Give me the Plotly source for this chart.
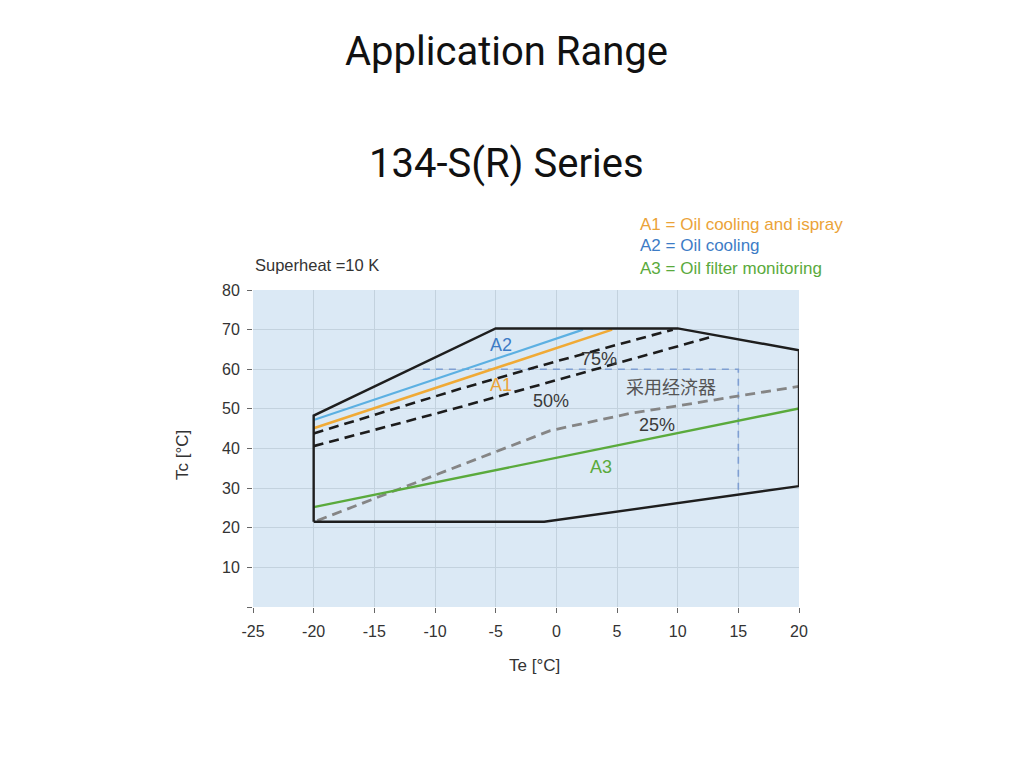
import plotly.graph_objects as go

# ---- data (Te in °C, Tc in °C) ----
env_te = [-20, -20, -5, 10, 20, 20, -1, -20]
env_tc = [21.5, 48.3, 70.3, 70.3, 64.8, 30.5, 21.5, 21.5]

a2_te = [-20, 2.2]
a2_tc = [47.2, 70.0]

a1_te = [-20, 4.6]
a1_tc = [45.1, 70.0]

p75_te = [-20, -8, 0, 9.6]
p75_tc = [43.8, 55.0, 62.0, 70.0]

p50_te = [-20, -8, 12.7]
p50_tc = [40.6, 50.4, 68.1]

p25_te = [-19.7, -0.5, 6, 20]
p25_tc = [21.8, 44.5, 48.8, 55.7]

a3_te = [-20, 20]
a3_tc = [25.2, 50.1]

eco_te = [-11, 15, 15]
eco_tc = [60, 60, 28.5]

x_ticks = [-25, -20, -15, -10, -5, 0, 5, 10, 15, 20]
x_ticktext = ["-25", "-20", "-15", "-10", "-5", "0", "5", "10", "15", "20"]
y_ticks = [0, 10, 20, 30, 40, 50, 60, 70, 80]
y_ticktext = ["", "10", "20", "30", "40", "50", "60", "70", "80"]

fig = go.Figure()

def add_line(x, y, color, width=2.5, dash="solid"):
    fig.add_trace(go.Scatter(x=x, y=y, mode="lines",
                             line=dict(color=color, width=width, dash=dash),
                             hoverinfo="skip", showlegend=False))

add_line(eco_te, eco_tc, "#7f9fd2", 1.6, "7px,6px")
add_line(p25_te, p25_tc, "#858585", 2.8, "10px,6px")
add_line(p50_te, p50_tc, "#1c1c1c", 2.6, "10px,6px")
add_line(p75_te, p75_tc, "#1c1c1c", 2.6, "10px,6px")
add_line(a3_te, a3_tc, "#5aaa3c", 2.4)
add_line(a1_te, a1_tc, "#f0aa36", 2.6)
add_line(a2_te, a2_tc, "#5cb0e2", 2.2)
add_line(env_te, env_tc, "#1e1e1e", 2.4)

afont = "Liberation Sans, Arial"

labels = [
    (-4.6, 66.1, "A2", "#3d7cc6"),
    (-4.6, 56.0, "A1", "#eba338"),
    (3.5, 62.6, "75%", "#3a3a3a"),
    (-0.4, 51.9, "50%", "#3a3a3a"),
    (8.3, 45.9, "25%", "#3a3a3a"),
    (3.7, 35.3, "A3", "#5aaa3c"),
]
for x, y, t, c in labels:
    fig.add_annotation(x=x, y=y, text=t, showarrow=False,
                       font=dict(family=afont, size=18, color=c),
                       xanchor="center", yanchor="middle")

fig.add_annotation(x=9.45, y=55.7, text="采用经济器", showarrow=False,
                   font=dict(family="Noto Sans CJK SC", size=18, color="#555555"),
                   xanchor="center", yanchor="middle")

# outside texts (paper coords)
fig.add_annotation(xref="paper", yref="paper", x=0.0, y=1.079, text="Superheat =10 K",
                   showarrow=False, xanchor="left", yanchor="middle",
                   font=dict(family=afont, size=16.5, color="#333333"))
legend_items = [
    (1.208, "A1 = Oil cooling and ispray", "#eba338"),
    (1.139, "A2 = Oil cooling", "#3d7cc6"),
    (1.069, "A3 = Oil filter monitoring", "#5aaa3c"),
]
for y, t, c in legend_items:
    fig.add_annotation(xref="paper", yref="paper", x=0.705, y=y, text=t,
                       showarrow=False, xanchor="left", yanchor="middle",
                       font=dict(family=afont, size=17, color=c))

fig.add_annotation(xref="paper", yref="paper", x=0.465, y=1.751, text="Application Range",
                   showarrow=False, xanchor="center", yanchor="middle",
                   font=dict(family="Roboto", size=40, color="#111111"))
fig.add_annotation(xref="paper", yref="paper", x=0.465, y=1.40, text="134-S(R) Series",
                   showarrow=False, xanchor="center", yanchor="middle",
                   font=dict(family="Roboto", size=40, color="#111111"))

fig.add_annotation(xref="paper", yref="paper", x=-0.128, y=0.48, text="Tc [°C]",
                   textangle=-90, showarrow=False, xanchor="center", yanchor="middle",
                   font=dict(family=afont, size=17, color="#333333"))
fig.add_annotation(xref="paper", yref="paper", x=0.516, y=-0.183, text="Te [°C]",
                   showarrow=False, xanchor="center", yanchor="middle",
                   font=dict(family=afont, size=17, color="#333333"))

fig.update_xaxes(range=[-25, 20], tickvals=x_ticks, ticktext=x_ticktext, ticks="outside",
                 ticklen=5, tickcolor="#666666", showgrid=True, gridcolor="#c3d2de",
                 gridwidth=1, zeroline=False, showline=False, ticklabelstandoff=5,
                 tickfont=dict(family=afont, size=16, color="#333333"))
fig.update_yaxes(range=[0, 80], tickvals=y_ticks, ticktext=y_ticktext, ticks="outside",
                 ticklen=5, tickcolor="#666666", showgrid=True, gridcolor="#c3d2de",
                 gridwidth=1, zeroline=False, showline=False, ticklabelstandoff=4,
                 tickfont=dict(family=afont, size=16, color="#333333"))

fig.update_layout(width=1024, height=768, autosize=False,
                  margin=dict(l=245, r=233, t=282, b=169),
                  paper_bgcolor="white", plot_bgcolor="#dbe9f5",
                  showlegend=False)

fig.write_html("out.html")
